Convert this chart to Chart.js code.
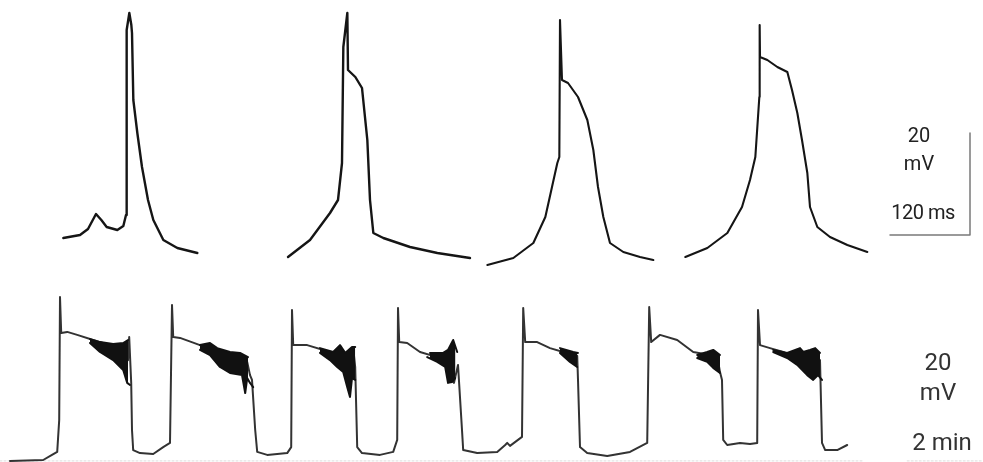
<!DOCTYPE html>
<html>
<head>
<meta charset="utf-8">
<script src="https://cdn.jsdelivr.net/npm/chart.js@4.4.1/dist/chart.umd.min.js"></script>
<style>
  html, body { margin: 0; padding: 0; background: #fff; }
  #wrap { position: relative; width: 983px; height: 462px; overflow: hidden; }
  #trace { position: absolute; left: 0; top: 0; }
  .lbl { position: absolute; transform: translate(-50%, -50%); font-family: Roboto, sans-serif; color: #222; white-space: nowrap; line-height: 1; }
  .top { font-size: 20px; }
  .bot { font-size: 24px; color: #333; }
</style>
</head>
<body>
<div id="wrap">
  <canvas id="trace" width="983" height="462"></canvas>
  <div class="lbl top" style="left:919px; top:135px;">20</div>
  <div class="lbl top" style="left:919px; top:163px;">mV</div>
  <div class="lbl top" style="left:923px; top:212px; letter-spacing:-0.5px;">120 ms</div>
  <div class="lbl bot" style="left:938px; top:362px;">20</div>
  <div class="lbl bot" style="left:938px; top:392px;">mV</div>
  <div class="lbl bot" style="left:942px; top:442px;">2 min</div>
</div>
<script>
(function () {
  'use strict';

  /* ---------------- Top panel: single action potentials (ms, mV) ---------------- */
  var ap1Time = [95, 120, 132, 140, 144, 152, 160, 176, 185, 189, 190, 194, 197, 198, 200, 206, 213, 222, 230, 245, 266, 296];
  var ap1Volt = [2.4, 3, 4.2, 6.2, 7.2, 6, 4.6, 4, 4.8, 7, 44, 47.4, 45, 43.4, 30, 23.4, 16.6, 10, 6, 2, 0.4, -0.6];

  var ap2Time = [432, 465, 495, 507, 513, 515, 521, 522, 533, 543, 551, 555, 560, 575, 615, 656, 705];
  var ap2Volt = [-1.4, 2, 7.4, 10, 17.4, 40.6, 47.4, 36, 34.6, 32.4, 22, 10, 3.4, 2.4, 0.6, -0.6, -1.6];

  var ap3Time = [731, 770, 800, 818, 828, 836, 839, 840, 843, 852, 867, 881, 890, 897, 905, 915, 935, 960, 980];
  var ap3Volt = [-3, -1.6, 1.4, 6.6, 12.6, 17.4, 18.6, 46, 34, 33.4, 30.6, 26, 20, 12.6, 6.6, 1.4, -0.4, -1.4, -2];

  var ap4Time = [1028, 1061, 1091, 1113, 1125, 1133, 1136, 1139, 1139.5, 1140, 1151, 1166, 1181, 1188, 1196, 1203, 1211, 1215, 1226, 1245, 1271, 1301];
  var ap4Volt = [-1.4, 0.4, 3.4, 8.6, 14, 18.6, 24.6, 30.6, 45, 38.6, 38, 36.6, 35.6, 32, 27.4, 22, 15.4, 8.6, 4.6, 2.6, 1, -0.4];

  // scale bar: 120 ms horizontal, 20 mV vertical
  var barTopTime = [1335, 1455, 1455];
  var barTopVolt = [3, 3, 23.4];

  /* ---------------- Bottom panel: slow-wave recording (min, mV) ---------------- */
  var slowTime = [0.25, 1.08, 1.3, 1.43, 1.48, 1.5, 1.53, 1.68, 1.93, 2.33, 2.75, 3.08, 3.2, 3.23, 3.28, 3.3, 3.33, 3.5, 3.83, 4.08, 4.25,
    4.3, 4.33, 4.5, 5, 5.43, 5.83, 6.18, 6.25, 6.3, 6.38, 6.43, 6.68, 7.18, 7.28,
    7.3, 7.33, 7.68, 8.25, 8.5, 8.75, 8.83, 8.88, 8.93, 9.05, 9.5, 9.83, 9.93,
    9.95, 9.98, 10.18, 10.5, 10.93, 11.25, 11.3, 11.35, 11.45, 11.55, 11.58, 11.93, 12.43, 12.63, 12.68, 12.75, 13.05,
    13.08, 13.13, 13.43, 13.75, 14.08, 14.43, 14.45, 14.5, 14.68, 15.18, 15.75, 16.18,
    16.23, 16.28, 16.5, 16.93, 17.33, 17.75, 17.93, 18, 18.05, 18.08, 18.18, 18.5, 18.75, 18.93,
    18.95, 19, 19.25, 19.58, 20, 20.33, 20.5, 20.55, 20.63, 20.93, 21.18];
  var slowVolt = [-0.3, 0, 1.7, 2.7, 13.3, 54.3, 42.3, 42.7, 41.7, 40, 38.3, 36, 33.3, 41, 25.7, 10, 3.3, 2.3, 2, 4.3, 5.7,
    51.7, 41, 40.7, 38.3, 36, 34.3, 32.7, 28.3, 26.7, 10, 2.7, 1.7, 2.3, 4.3,
    50, 38.3, 38.3, 36, 35, 33.3, 37.3, 31, 4.3, 2.3, 1.7, 2.7, 6.7,
    50.7, 39.3, 39, 36, 34.3, 32.7, 39, 25.7, 31.7, 10, 3.3, 2.3, 2.7, 5, 5.7, 4.7, 7.7,
    50.7, 39.3, 39.3, 37.3, 36, 34.7, 26.7, 4.3, 2.3, 1.3, 2.7, 5.7,
    51, 39.3, 41.7, 40, 36, 35, 34.7, 29.3, 26.7, 6.7, 5, 5.7, 5.3, 5.7,
    50, 38.3, 37.3, 36, 33.3, 29, 33.3, 5.7, 3.3, 3.3, 5];

  // noisy bursts on the plateaus: upper and lower edge of the dark band
  var burstUpTime = [
    [2.25, 2.5, 2.83, 3.08, 3.2],
    [5, 5.25, 5.43, 5.58, 5.75, 6, 6.2],
    [8, 8.33, 8.5, 8.63, 8.8, 8.88],
    [10.75, 11.08, 11.2, 11.33, 11.43],
    [14, 14.33, 14.45],
    [17.43, 17.68, 17.83, 18],
    [19.33, 19.68, 20, 20.08, 20.25, 20.38, 20.5]];
  var burstUpVolt = [
    [40.3, 39.3, 38.7, 39, 40],
    [38.3, 39, 37.3, 36.7, 36, 35.7, 34.3],
    [37.3, 36, 38.3, 35.7, 37.7, 37.7],
    [35.7, 35.7, 36.7, 40, 36],
    [37.3, 36, 35.7],
    [35, 36, 36.7, 35],
    [36.7, 35.7, 37.3, 36, 36.7, 37.3, 35.7]];
  var burstLoTime = [
    [2.25, 2.5, 2.83, 3.08, 3.18, 3.25],
    [5, 5.25, 5.5, 5.75, 6.05, 6.13, 6.18, 6.25, 6.33],
    [8, 8.25, 8.43, 8.58, 8.68, 8.75, 8.8, 8.88],
    [10.68, 10.93, 11.13, 11.2, 11.3, 11.38],
    [14, 14.25, 14.43],
    [17.43, 17.68, 17.83, 18],
    [19.33, 19.68, 19.93, 20.18, 20.33, 20.45, 20.55]];
  var burstLoVolt = [
    [39, 36, 33.3, 30, 25.7, 25],
    [36.7, 35, 31, 29, 28.3, 22.3, 27.3, 25.7, 24.3],
    [35.7, 33.3, 31, 29.3, 24.3, 21, 27.3, 26.7],
    [34.3, 32.7, 31, 25.7, 26, 27.3],
    [35.7, 32.7, 31],
    [34, 32.7, 30.7, 29],
    [36, 34, 31.7, 28.3, 26.7, 28.3, 26.7]];

  // faint bottom rule
  var ruleTime = [0, 21.58, null, 22.68, 24.58];
  var ruleVolt = [-0.3, -0.3, null, -0.3, -0.3];

  function pts(xs, ys) {
    return xs.map(function (x, i) { return { x: x, y: ys[i] }; });
  }

  function topLine(xs, ys, width) {
    return {
      data: pts(xs, ys), xAxisID: 'xTop', yAxisID: 'yTop', order: 2,
      borderColor: '#151515', borderWidth: width, pointRadius: 0, tension: 0, fill: false
    };
  }

  var datasets = [
    topLine(ap1Time, ap1Volt, 2.4),
    topLine(ap2Time, ap2Volt, 2.4),
    topLine(ap3Time, ap3Volt, 2.1),
    topLine(ap4Time, ap4Volt, 2.1),
    {
      data: pts(barTopTime, barTopVolt), xAxisID: 'xTop', yAxisID: 'yTop', order: 2,
      borderColor: '#7a7a7a', borderWidth: 1.5, pointRadius: 0, fill: false
    },
    {
      data: pts(ruleTime, ruleVolt), xAxisID: 'xBot', yAxisID: 'yBot', order: 9,
      borderColor: '#dcdcdc', borderWidth: 1, borderDash: [2, 2], pointRadius: 0, fill: false, spanGaps: false
    },
    {
      // drawn beneath the burst bands
      data: pts(slowTime, slowVolt), xAxisID: 'xBot', yAxisID: 'yBot', order: 5,
      borderColor: '#333', borderWidth: 2, pointRadius: 0, tension: 0, fill: false
    }
  ];

  burstUpTime.forEach(function (t, i) {
    datasets.push({
      data: pts(t, burstUpVolt[i]), xAxisID: 'xBot', yAxisID: 'yBot', order: 1,
      borderColor: '#111', borderWidth: 2, pointRadius: 0, fill: '+1', backgroundColor: '#111'
    });
    datasets.push({
      data: pts(burstLoTime[i], burstLoVolt[i]), xAxisID: 'xBot', yAxisID: 'yBot', order: 1,
      borderColor: '#111', borderWidth: 2, pointRadius: 0, fill: false
    });
  });

  new Chart(document.getElementById('trace').getContext('2d'), {
    type: 'line',
    data: { datasets: datasets },
    options: {
      responsive: false,
      animation: false,
      layout: { padding: 0 },
      plugins: { legend: { display: false }, tooltip: { enabled: false } },
      elements: { line: { borderCapStyle: 'round', borderJoinStyle: 'round' } },
      scales: {
        xTop: { type: 'linear', display: false, min: 0, max: 1474.5 },
        yTop: { type: 'linear', display: false, min: -42.4, max: 50 },
        xBot: { type: 'linear', display: false, min: 0, max: 24.575 },
        yBot: { type: 'linear', display: false, min: -0.667, max: 153.33 }
      }
    }
  });
})();
</script>
</body>
</html>
